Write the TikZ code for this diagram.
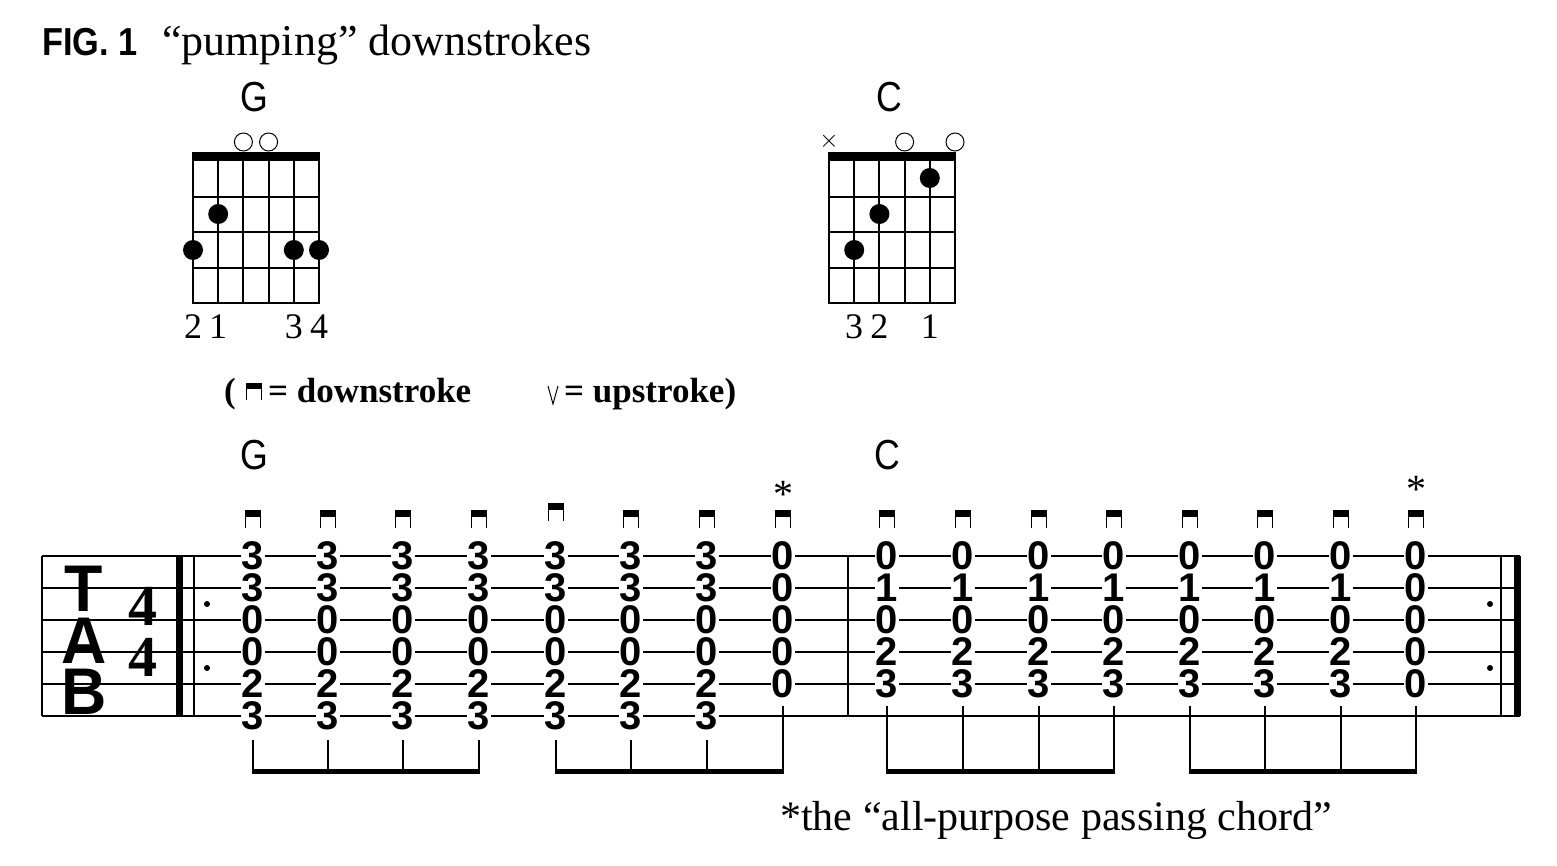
\documentclass[tikz,border=0pt]{standalone}
\usepackage{fontspec}
\setmainfont{Liberation Serif}
\setsansfont{Liberation Sans}
\begin{document}
\begin{tikzpicture}[x=1pt,y=-1pt,
  num/.style={fill=white,inner sep=1pt,text height=27pt,text depth=0pt,font=\sffamily\bfseries\fontsize{40}{40}\selectfont},
  chname/.style={font=\sffamily\fontsize{42}{42}\selectfont,xscale=0.85},
  fing/.style={font=\fontsize{36}{36}\selectfont},
  grid/.style={line width=2pt},
  dot/.style={circle,fill=black,minimum size=20pt,inner sep=0pt},
  open/.style={circle,draw=black,line width=1pt,minimum size=18pt,inner sep=0pt},
  tabl/.style={inner sep=0pt,text height=46pt,text depth=0pt,font=\sffamily\bfseries\fontsize{66}{66}\selectfont,xscale=0.95},
  staff/.style={line width=1.2pt}]
\useasboundingbox (0,0) rectangle (1557,866);
% title
\node[anchor=base west,font=\sffamily\bfseries\fontsize{39}{39}\selectfont,xscale=0.88,inner sep=0] (fig) at (42,56) {FIG. 1};
\node[anchor=base west,font=\fontsize{44}{44}\selectfont,inner sep=0] (ttl) at (162,56) {“pumping” downstrokes};
% chord grids
\foreach \ox in {193,829}{
  \foreach \i in {0,...,5} \draw[grid] (\ox+25.2*\i,157) -- (\ox+25.2*\i,304);
  \foreach \y in {197,232,268,303} \draw[grid] (\ox,\y) -- (\ox+126,\y);
  \fill (\ox-1,152) rectangle (\ox+127,161);
}
\node[chname] (gname) at (254,97) {G};
\node[chname] (cname) at (889,97) {C};
% G
\node[open] (go3) at (243.4,142) {};
\node[open] (go4) at (268.6,142) {};
\node[dot] (gd1) at (193,250) {};
\node[dot] (gd2) at (218.2,214) {};
\node[dot] (gd5) at (293.8,250) {};
\node[dot] (gd6) at (319,250) {};
\node[fing] (gf1) at (193,327) {2};
\node[fing] (gf2) at (218.2,327) {1};
\node[fing] (gf5) at (293.8,327) {3};
\node[fing] (gf6) at (319,327) {4};
% C
\node[font=\fontsize{34}{34}\selectfont] (cx) at (829,141) {$\times$};
\node[open] (co4) at (904.6,142) {};
\node[open] (co6) at (955,142) {};
\node[dot] (cd2) at (854.2,250) {};
\node[dot] (cd3) at (879.4,214) {};
\node[dot] (cd5) at (929.8,178) {};
\node[fing] (cf2) at (854.2,327) {3};
\node[fing] (cf3) at (879.4,327) {2};
\node[fing] (cf5) at (929.8,327) {1};
% legend
\node[anchor=base west,inner sep=0,font=\bfseries\fontsize{35}{35}\selectfont] (lg1) at (224,402) {(};
\node[anchor=base west,inner sep=0,font=\bfseries\fontsize{35}{35}\selectfont] (lg1b) at (268,402) {= downstroke};
\fill (246,383) rectangle (262,389);
\draw[line width=1.3pt] (246.6,383) -- (246.6,400) (261.4,383) -- (261.4,400);
\node[anchor=base west,inner sep=0,font=\bfseries\fontsize{35}{35}\selectfont] (lg2) at (564,402) {= upstroke)};
\draw[line width=1pt] (548,386) -- (553,404) -- (558,386);
% tab chord names and asterisks
\node[chname] (tg) at (254,455) {G};
\node[chname] (tc) at (887,455) {C};
\node[font=\fontsize{40}{40}\selectfont] (as1) at (783,494) {*};
\node[font=\fontsize{40}{40}\selectfont] (as2) at (1416,489) {*};
% staff
\foreach \y in {556,588,620,652,684,716} \draw[staff] (42,\y) -- (1520,\y);
\draw[staff] (42,556) -- (42,716);
\fill (176,556) rectangle (183,716);
\draw[staff] (194,556) -- (194,716);
\draw[staff] (848,556) -- (848,716);
\draw[staff] (1501,556) -- (1501,716);
\fill (1514,556) rectangle (1521,716);
\foreach \x in {207,1490} \foreach \y in {604,668} \fill (\x,\y) circle (3pt);
\node[tabl] (T) at (84,588) {T};
\node[tabl] (A) at (84,640) {A};
\node[tabl] (B) at (84,691) {B};
\node[inner sep=0pt,font=\bfseries\fontsize{58}{58}\selectfont] (ts1) at (143,606) {4};
\node[inner sep=0pt,font=\bfseries\fontsize{58}{58}\selectfont] (ts2) at (143,657) {4};
% downstroke symbols
\foreach \x/\yy in {253/510,328/510,403/510,479/510,556/503,631/510,707/510,783/510,887/510,963/510,1039/510,1114/510,1190/510,1265/510,1341/510,1416/510}{
  \fill (\x-8,\yy) rectangle (\x+8,\yy+7);
  \draw[line width=1.3pt] (\x-7.4,\yy) -- (\x-7.4,\yy+18) (\x+7.4,\yy) -- (\x+7.4,\yy+18);
}
% fret numbers
\foreach \x in {253,328,403,479,556,631,707}{
  \foreach \v [count=\s] in {3,3,0,0,2,3} \node[num] (g\x s\s) at (\x,556+32*\s-32) {\v};
}
\foreach \s in {1,...,5} \node[num] (g783s\s) at (783,556+32*\s-32) {0};
\foreach \x in {887,963,1039,1114,1190,1265,1341}{
  \foreach \v [count=\s] in {0,1,0,2,3} \node[num] (c\x s\s) at (\x,556+32*\s-32) {\v};
}
\foreach \s in {1,...,5} \node[num] (c1416s\s) at (1416,556+32*\s-32) {0};
% stems and beams
\foreach \x in {253,328,403,479,556,631,707} \draw[line width=1.3pt] (\x,740) -- (\x,772);
\foreach \x in {783,887,963,1039,1114,1190,1265,1341,1416} \draw[line width=1.3pt] (\x,706) -- (\x,772);
\foreach \a/\b in {253/479,556/783,887/1114,1190/1416} \fill (\a-0.7,769) rectangle (\b+0.7,774);
% footnote
\node[anchor=base west,inner sep=0,font=\fontsize{42}{42}\selectfont] (fn) at (780,830) {*the “all-purpose passing chord”};
\end{tikzpicture}
\end{document}
